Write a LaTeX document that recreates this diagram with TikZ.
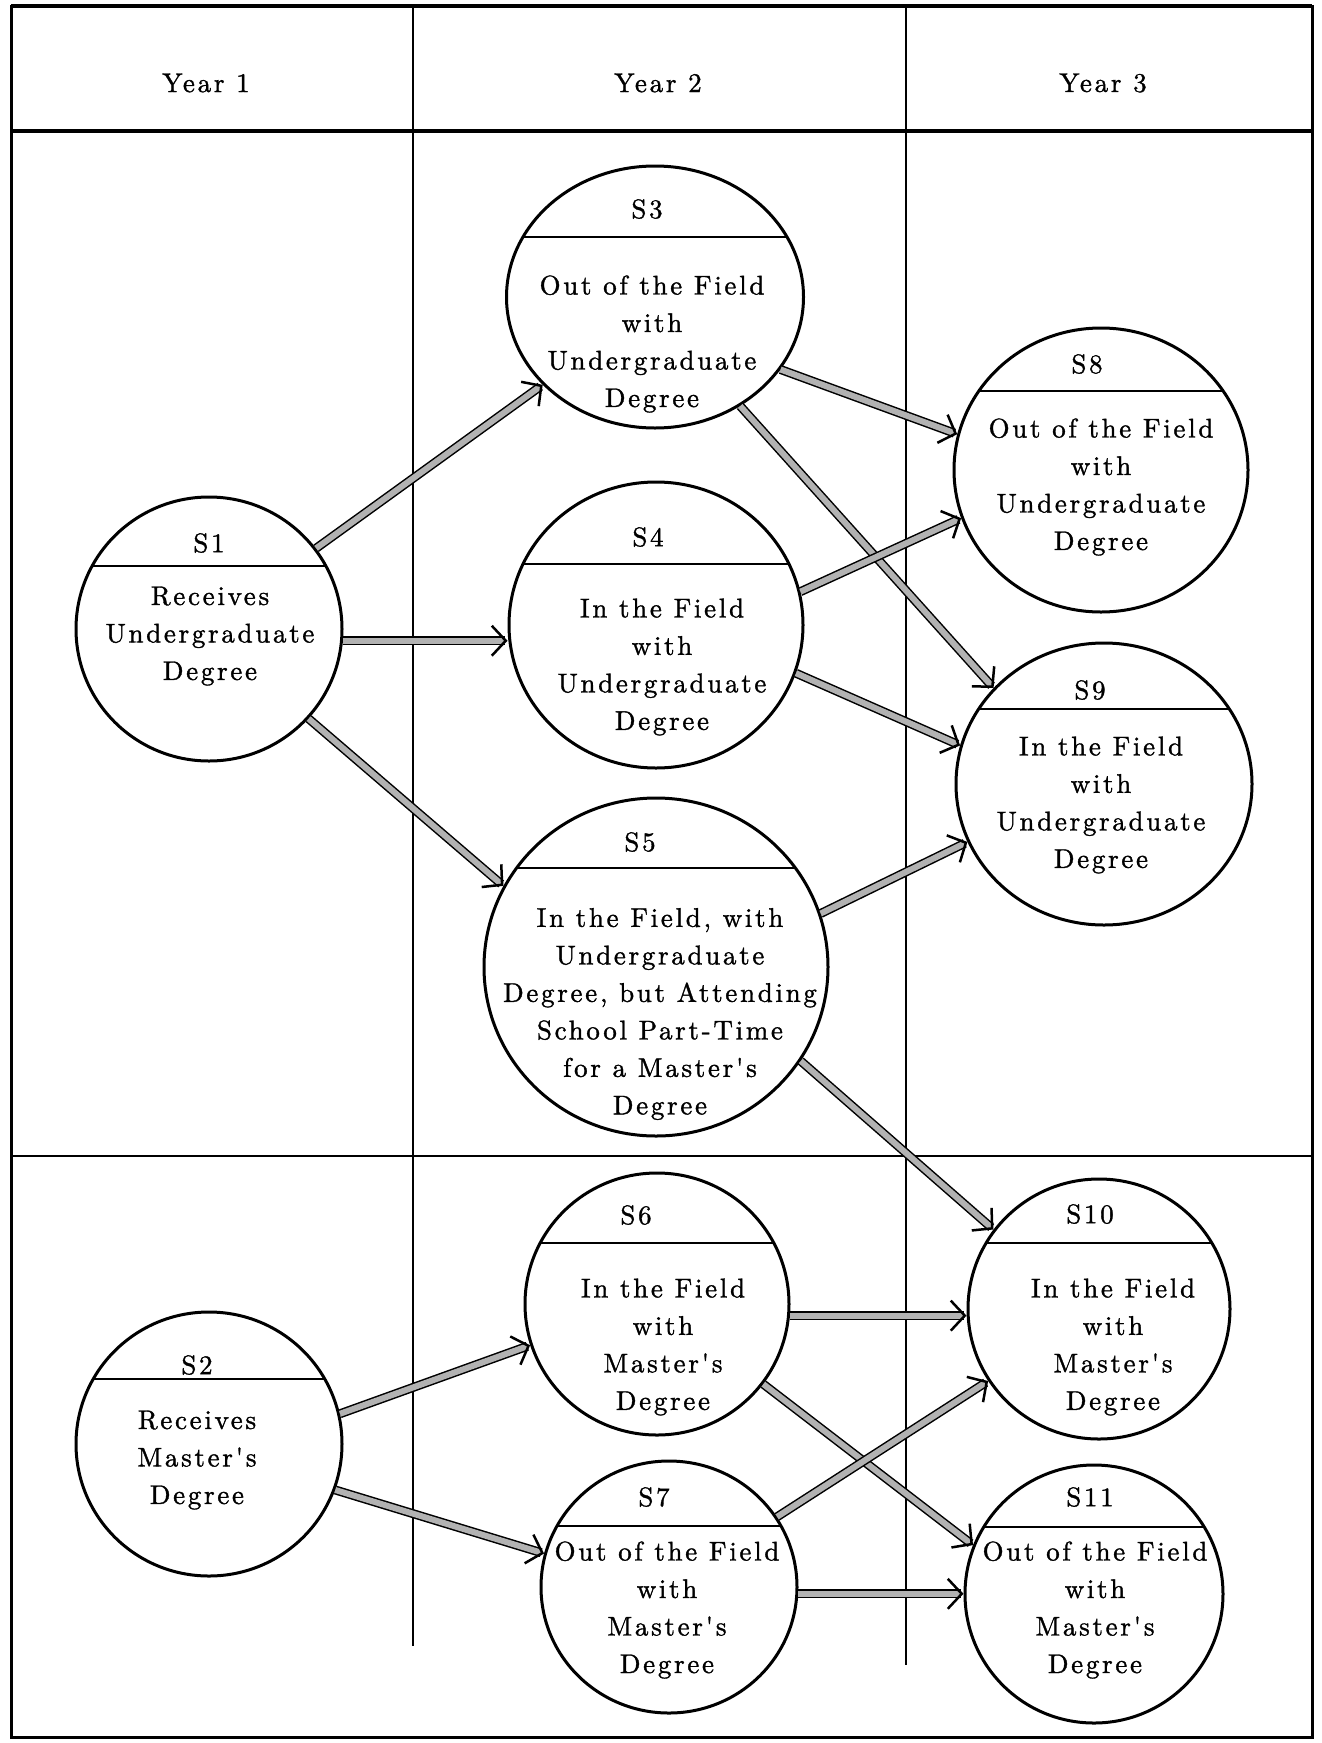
\documentclass[tikz,border=0pt]{standalone}
\usepackage{fontspec}
\newfontfamily\tf{lmroman10-regular.otf}[LetterSpace=10,FakeBold=1.2]
\usetikzlibrary{shapes.geometric,arrows.meta}
\begin{document}
\begin{tikzpicture}[x=1pt,y=-1pt,
  state/.style n args={3}{ellipse, draw, line width=3pt, inner sep=0pt,
    minimum width=#1, minimum height=#2,
    path picture={\draw[line width=2.5pt] ([yshift=#3]path picture bounding box.west) -- ([yshift=#3]path picture bounding box.east);}},
  txt/.style={font=\tf\fontsize{27}{37.5}\selectfont, align=center, inner sep=0pt},
  lab/.style={font=\tf\fontsize{27}{37.5}\selectfont, inner sep=0pt},
  arr/.style={draw=black, line width=1.5pt, double=gray!60, double distance=6pt,
    -{Straight Barb[length=14pt,width=30pt,line width=2.5pt]}},
  frame/.style={line width=3pt},
  rule/.style={line width=1.5pt}
]
\useasboundingbox (0,0) rectangle (1322,1743);
% frame
\draw[frame] (11,6) rectangle (1312,1737);
\draw[line width=4pt] (11,6) -- (1312,6);
\draw[line width=4pt] (11,131) -- (1312,131);
\draw[rule] (413,6) -- (413,1646);
\draw[rule] (906,6) -- (906,1665);
\draw[rule] (11,1156) -- (1312,1156);
% headers
\node[lab] (h1) at (206,83) {Year 1};
\node[lab] (h2) at (658,83) {Year 2};
\node[lab] (h3) at (1103,83) {Year 3};
% states
\node[state={266pt}{264pt}{63pt}] (S1) at (209,629) {};
\node[lab] (S1l) at (209,543) {S1};
\node[txt] (S1t) at (210,636) {Receives\\Undergraduate\\Degree};

\node[state={266pt}{264pt}{65pt}] (S2) at (209,1444) {};
\node[lab] (S2l) at (197,1365) {S2};
\node[txt] (S2t) at (197,1460) {Receives\\Master's\\Degree};

\node[state={297pt}{262pt}{60pt}] (S3) at (655,297) {};
\node[lab] (S3l) at (647,209) {S3};
\node[txt] (S3t) at (652,344) {Out of the Field\\with\\Undergraduate\\Degree};

\node[state={294pt}{286pt}{61pt}] (S4) at (656,625) {};
\node[lab] (S4l) at (648,537) {S4};
\node[txt] (S4t) at (662,667) {In the Field\\with\\Undergraduate\\Degree};

\node[state={344pt}{338pt}{99pt}] (S5) at (656,967) {};
\node[lab] (S5l) at (640,842) {S5};
\node[txt] (S5t) at (660,1014) {In the Field, with\\Undergraduate\\Degree, but Attending\\School Part-Time\\for a Master's\\Degree};

\node[state={264pt}{262pt}{61pt}] (S6) at (657,1304) {};
\node[lab] (S6l) at (636,1215) {S6};
\node[txt] (S6t) at (663,1347) {In the Field\\with\\Master's\\Degree};

\node[state={256pt}{252pt}{61pt}] (S7) at (669,1587) {};
\node[lab] (S7l) at (654,1497) {S7};
\node[txt] (S7t) at (667,1610) {Out of the Field\\with\\Master's\\Degree};

\node[state={294pt}{284pt}{79pt}] (S8) at (1101,470) {};
\node[lab] (S8l) at (1087,364) {S8};
\node[txt] (S8t) at (1101,487) {Out of the Field\\with\\Undergraduate\\Degree};

\node[state={296pt}{282pt}{75pt}] (S9) at (1104,784) {};
\node[lab] (S9l) at (1090,690) {S9};
\node[txt] (S9t) at (1101,805) {In the Field\\with\\Undergraduate\\Degree};

\node[state={262pt}{260pt}{66pt}] (S10) at (1099,1309) {};
\node[lab] (S10l) at (1090,1214) {S10};
\node[txt] (S10t) at (1113,1347) {In the Field\\with\\Master's\\Degree};

\node[state={258pt}{258pt}{67pt}] (S11) at (1094,1594) {};
\node[lab] (S11l) at (1090,1497) {S11};
\node[txt] (S11t) at (1095,1610) {Out of the Field\\with\\Master's\\Degree};
% transitions
\draw[arr] (S1.37) -- (S3.218);
\draw[arr] (S1.-5) -- (S1.-5 -| S4.west);
\draw[arr] (S1.-42) -- (S5.152);
\draw[arr] (S3.-30) -- (S8.166);
\draw[arr] (S3.-52) -- (S9.139);
\draw[arr] (S4.13) -- (S8.199);
\draw[arr] (S4.-19) -- (S9.165);
\draw[arr] (S5.18) -- (S9.203);
\draw[arr] (S5.-33) -- (S10.143);
\draw[arr] (S2.13) -- (S6.198);
\draw[arr] (S2.-20) -- (S7.165);
\draw[arr] (S6.-5) -- (S6.-5 -| S10.west);
\draw[arr] (S6.-37) -- (S11.158);
\draw[arr] (S7.33) -- (S10.213);
\draw[arr] (S7.-3) -- (S7.-3 -| S11.west);
\end{tikzpicture}
\end{document}
